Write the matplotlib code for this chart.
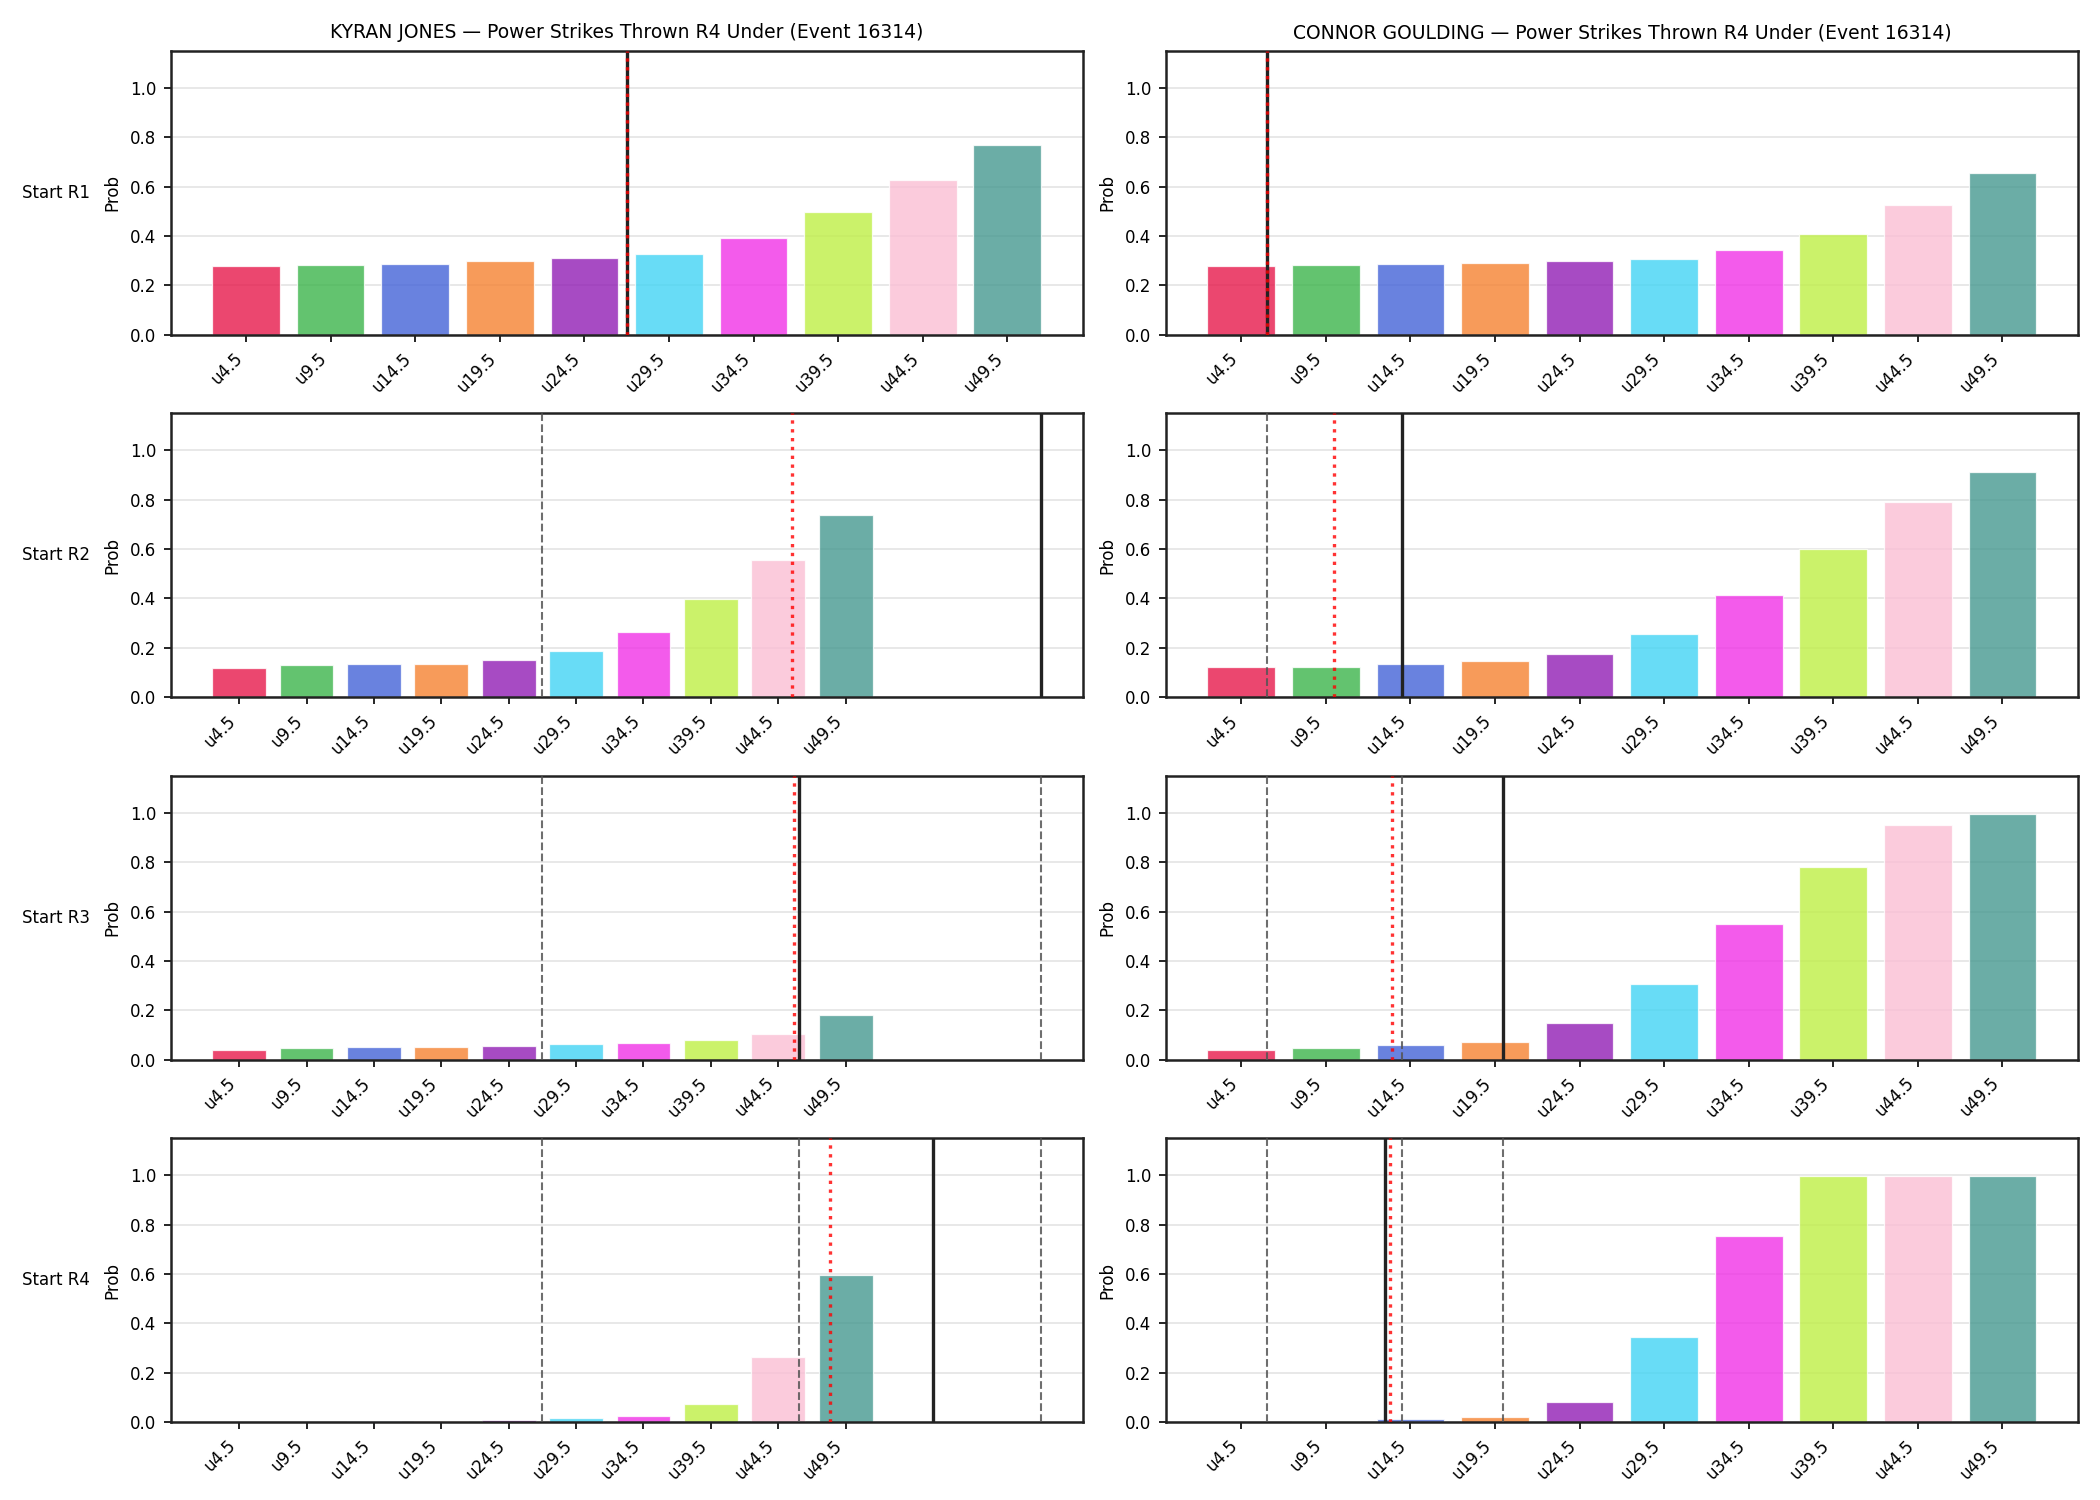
"""Under-line probability ladders per starting round, two fighters side by side."""
import matplotlib
matplotlib.use("Agg")
import matplotlib.pyplot as plt
import numpy as np

EVENT_ID = 16314
MARKET = "Power Strikes Thrown R4 Under"
FIGHTERS = ["KYRAN JONES", "CONNOR GOULDING"]
ROUNDS = ["Start R1", "Start R2", "Start R3", "Start R4"]
LINES = [4.5, 9.5, 14.5, 19.5, 24.5, 29.5, 34.5, 39.5, 44.5, 49.5]
LINE_LABELS = [f"u{v}" for v in LINES]

COLORS = ["#e6194b", "#3cb44b", "#4363d8", "#f58231", "#911eb4",
          "#42d4f4", "#f032e6", "#bfef45", "#fabed4", "#469990"]

# P(under) per line, one row per starting round
probs_jones = [
    [0.280, 0.283, 0.287, 0.300, 0.310, 0.325, 0.390, 0.497, 0.625, 0.768],
    [0.118, 0.130, 0.133, 0.133, 0.150, 0.185, 0.263, 0.398, 0.557, 0.737],
    [0.040, 0.045, 0.050, 0.050, 0.053, 0.062, 0.066, 0.078, 0.105, 0.180],
    [0.001, 0.002, 0.004, 0.006, 0.007, 0.016, 0.023, 0.072, 0.265, 0.597],
]
probs_goulding = [
    [0.280, 0.283, 0.288, 0.292, 0.297, 0.308, 0.345, 0.410, 0.526, 0.655],
    [0.120, 0.123, 0.133, 0.145, 0.173, 0.255, 0.413, 0.600, 0.790, 0.912],
    [0.040, 0.048, 0.057, 0.073, 0.147, 0.308, 0.550, 0.780, 0.953, 0.997],
    [0.000, 0.003, 0.012, 0.020, 0.080, 0.345, 0.755, 0.998, 0.998, 0.998],
]

# strike counts: actual at round start (black), model mean (red)
actual_jones = [27, 64, 46, 56]
mean_jones = [27, 45.5, 45.7, 48.3]
actual_goulding = [6, 14, 20, 13]
mean_goulding = [6, 10, 13.4, 13.3]


def count_to_x(c):
    # map a strike count onto the categorical ladder axis
    return (c - LINES[0]) / (LINES[1] - LINES[0])


def draw_panel(ax, probs, actual, mean, r):
    x = np.arange(len(LINES))
    ax.bar(x, probs, width=0.8, color=COLORS, alpha=0.8,
           edgecolor="white", linewidth=0.6, zorder=2)
    for c in sorted(actual[:r]):
        ax.axvline(count_to_x(c), color="#555555", ls="--", lw=1.0, alpha=0.85, zorder=3)
    ax.axvline(count_to_x(actual[r]), color="#222222", lw=1.6, zorder=4)
    ax.axvline(count_to_x(mean[r]), color="red", ls=":", lw=1.6, alpha=0.8, zorder=5)
    ax.set_xticks(x)
    ax.set_xticklabels(LINE_LABELS, rotation=45, ha="right", fontsize=8)
    ax.set_ylim(0, 1.15)
    ax.set_yticks([0, 0.2, 0.4, 0.6, 0.8, 1.0])
    ax.tick_params(axis="y", labelsize=8)
    ax.set_ylabel("Prob", fontsize=8)
    ax.grid(True, axis="y", color="#dddddd", lw=0.8, alpha=0.8, zorder=0)
    ax.set_axisbelow(True)
    for sp in ax.spines.values():
        sp.set_color("#222222")
        sp.set_linewidth(1.2)


def main():
    fig, axes = plt.subplots(4, 2, figsize=(14, 10), dpi=150)
    fig.subplots_adjust(left=0.0813, right=0.9894, top=0.966, bottom=0.052,
                        wspace=0.0914, hspace=0.278)

    data = [(probs_jones, actual_jones, mean_jones),
            (probs_goulding, actual_goulding, mean_goulding)]
    for col, (probs, actual, mean) in enumerate(data):
        for r in range(len(ROUNDS)):
            ax = axes[r, col]
            draw_panel(ax, probs[r], actual, mean, r)
            if col == 0:
                ax.text(-0.0885, 0.5, ROUNDS[r], transform=ax.transAxes,
                        ha="right", va="center", fontsize=8)
        axes[0, col].set_title(f"{FIGHTERS[col]} \u2014 {MARKET} (Event {EVENT_ID})",
                               fontsize=9)

    fig.savefig("out.png")
    plt.close(fig)


if __name__ == "__main__":
    main()
